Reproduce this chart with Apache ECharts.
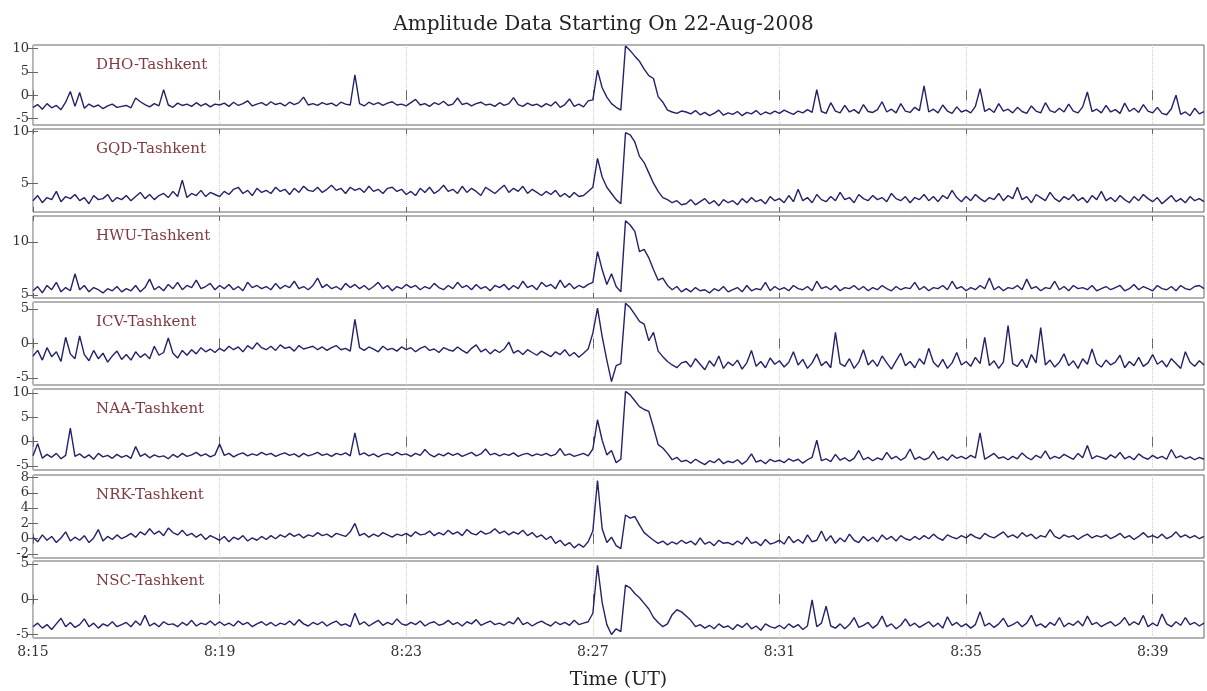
<!DOCTYPE html>
<html>
<head>
<meta charset="utf-8">
<title>Amplitude Data Starting On 22-Aug-2008</title>
<script src="https://cdn.jsdelivr.net/npm/echarts@6/dist/echarts.min.js"></script>
<style>
    html, body {
        margin: 0;
        padding: 0;
        background: #fff;
    }

    #chart {
        width: 1207px;
        height: 691px;
    }
</style>
</head>
<body>
<div id="chart"></div>
<script>
// one sample every 0.1 min, first sample at 8:15 UT
const sampleStep = 0.1;
const xTickMinutes = [0, 4, 8, 12, 16, 20, 24];   // 8:15, 8:19 ... 8:39

const stations = ['DHO-Tashkent', 'GQD-Tashkent', 'HWU-Tashkent', 'ICV-Tashkent',
    'NAA-Tashkent', 'NRK-Tashkent', 'NSC-Tashkent'];

const dho = [
    -2.6, -2.0, -3.0, -1.8, -2.7, -2.2, -3.1, -1.5, 0.8, -2.4,
    0.6, -2.8, -1.9, -2.5, -2.1, -2.9, -2.3, -1.9, -2.6, -2.4,
    -2.2, -2.7, -0.6, -1.4, -2.0, -2.5, -1.8, -2.3, 1.2, -2.1,
    -2.6, -1.7, -2.2, -1.9, -2.4, -1.6, -2.3, -1.8, -2.5, -1.9,
    -2.1, -1.7, -2.4, -1.5, -2.2, -1.8, -1.2, -2.3, -1.9, -1.6,
    -2.2, -1.4, -2.0, -1.7, -2.3, -1.5, -2.0, -1.6, -0.4, -2.1,
    -1.8, -2.2, -1.6, -2.0, -1.7, -2.3, -1.5, -1.9, -2.1, 4.4,
    -1.8, -2.3, -1.5, -2.0, -1.6, -2.2, -1.7, -1.4, -2.1, -1.9,
    -2.3, -1.6, -0.9, -2.1, -1.8, -2.4, -1.6, -2.0, -1.3, -2.2,
    -1.9, -0.6, -2.0, -1.7, -2.3, -1.8, -1.5, -2.1, -1.9, -2.4,
    -1.6, -2.2, -1.8, -0.5, -2.0, -2.4, -1.7, -2.2, -1.9, -2.5,
    -1.8, -2.3, -1.4, -2.6, -2.0, -0.8, -2.4, -1.9, -2.5, -1.2,
    -1.0, 5.4, 1.6, -0.4, -1.8, -2.6, -3.2, 10.6, 9.6, 8.4,
    7.3, 5.6, 4.2, 3.6, -0.3, -1.5, -3.2, -3.6, -3.9, -3.4,
    -3.6, -4.0, -3.3, -4.2, -3.7, -4.4, -3.9, -3.2, -4.3, -3.8,
    -4.1, -3.5, -4.4, -3.7, -4.0, -3.3, -4.2, -3.6, -4.0, -3.4,
    -3.9, -3.2, -3.7, -4.1, -3.4, -3.8, -3.1, -3.7, 1.2, -3.5,
    -3.9, -1.6, -3.4, -3.8, -2.2, -3.6, -3.1, -3.9, -2.0, -3.5,
    -3.7, -3.1, -1.4, -3.6, -3.0, -3.8, -1.8, -3.4, -3.7, -2.6,
    -3.3, 2.0, -3.6, -3.0, -3.8, -2.1, -3.4, -3.9, -2.5, -3.6,
    -3.2, -3.8, -2.4, 1.4, -3.5, -2.9, -3.7, -1.8, -3.4, -3.0,
    -3.8, -2.6, -3.5, -3.9, -2.3, -3.4, -3.8, -1.6, -3.3, -3.7,
    -2.8, -3.6, -1.9, -3.4, -3.8, -2.5, 0.7, -3.5, -3.0, -3.8,
    -2.2, -3.6, -3.1, -3.9, -1.7, -3.5, -2.8, -3.7, -2.0, -3.4,
    -3.8, -2.6, -3.9, -4.2, -2.9, 0.0, -4.1, -3.6, -4.4, -2.8,
    -4.0, -3.5
];

const gqd = [
    3.3, 3.8, 3.1, 3.6, 3.4, 4.2, 3.2, 3.7, 3.5, 3.9,
    3.3, 3.6, 3.0, 3.8, 3.4, 3.5, 3.9, 3.2, 3.6, 3.4,
    3.8, 3.3, 3.7, 4.1, 3.5, 3.9, 3.4, 3.8, 4.0, 3.6,
    4.2, 3.7, 5.3, 3.6, 4.0, 3.8, 4.3, 3.7, 4.1, 3.9,
    3.7, 4.2, 3.9, 4.4, 4.6, 4.0, 4.3, 3.8, 4.5, 4.1,
    4.3, 4.0, 4.6, 4.2, 4.4, 3.9, 4.5, 4.1, 4.7, 4.3,
    4.2, 4.6, 4.1, 4.4, 4.8, 4.3, 4.5, 4.0, 4.6, 4.3,
    4.5, 4.1, 4.7, 4.2, 4.4, 4.0, 4.5, 4.6, 4.2, 4.4,
    3.9, 4.2, 3.8, 4.5, 4.1, 4.6, 4.0, 4.3, 4.8, 4.2,
    4.4, 4.0, 4.7, 4.1, 4.5, 4.2, 3.8, 4.6, 4.3, 4.0,
    4.4, 4.8, 4.1, 4.5, 4.2, 4.7, 4.0, 4.4, 4.1, 3.8,
    4.2, 3.9, 4.3, 3.7, 4.0, 3.6, 4.1, 3.7, 3.8, 4.2,
    4.6, 7.4, 5.6, 4.6, 4.0, 3.4, 3.0, 9.9, 9.7, 9.0,
    7.6, 7.0, 6.0, 5.0, 4.2, 3.6, 3.4, 3.1, 3.3, 2.9,
    3.0, 3.4, 2.9, 3.2, 3.5, 3.0, 3.3, 2.8, 3.4, 3.1,
    3.3, 2.9, 3.5, 3.1, 3.6, 3.2, 3.4, 3.0, 3.7, 3.3,
    3.5, 3.1, 3.8, 3.2, 4.4, 3.3, 3.6, 3.1, 3.9, 3.4,
    3.2, 3.7, 3.3, 4.1, 3.4, 3.6, 3.1, 3.9, 3.5, 3.3,
    3.8, 3.4, 3.6, 3.2, 4.0, 3.5, 3.3, 3.7, 3.1, 3.6,
    3.4, 3.9, 3.3, 3.7, 3.2, 3.8, 3.5, 4.3, 3.6, 3.2,
    3.7, 3.3, 3.9, 3.5, 3.2, 3.6, 3.4, 4.0, 3.3, 3.8,
    3.5, 4.6, 3.4, 3.7, 3.1, 3.9, 3.6, 3.3, 4.1, 3.5,
    3.2, 3.7, 3.4, 3.9, 3.3, 3.6, 3.1, 3.8, 3.4, 4.2,
    3.3, 3.6, 3.2, 3.8, 3.4, 3.1, 3.7, 3.3, 3.9, 3.5,
    3.2, 3.6, 3.0, 3.4, 3.8, 3.2, 3.5, 3.1, 3.7, 3.3,
    3.5, 3.2
];

const hwu = [
    5.4, 5.8, 5.2, 5.9, 5.5, 6.2, 5.3, 5.7, 5.4, 7.0,
    5.5, 5.9, 5.3, 5.7, 5.5, 5.2, 5.6, 5.4, 5.8, 5.3,
    5.6, 5.4, 5.9, 5.3, 5.7, 6.5, 5.5, 5.8, 5.4, 6.0,
    5.6, 6.2, 5.5, 5.9, 5.7, 6.4, 5.6, 5.8, 6.1, 5.5,
    5.9, 5.6, 6.0, 5.5, 5.8, 5.4, 6.2, 5.7, 5.9, 5.6,
    5.8, 5.5, 6.1, 5.6, 5.9, 5.7, 6.3, 5.6, 5.8, 5.5,
    5.9, 6.6, 5.7, 6.0, 5.6, 5.8, 5.5, 6.1, 5.7, 6.0,
    5.6, 5.9, 5.5, 5.8, 6.2, 5.6, 5.9, 5.4, 5.8, 5.6,
    6.0, 5.7, 5.9, 5.5, 5.8, 5.6, 6.1, 5.7, 5.5, 5.9,
    5.6, 6.2, 5.7, 5.9, 5.5, 6.0, 5.6, 5.8, 5.4, 5.9,
    5.7, 6.0, 5.5, 5.9, 5.6, 6.3, 5.7, 5.9, 5.5, 6.2,
    5.8, 6.0, 5.6, 6.4, 5.7, 6.1, 5.6, 5.9, 5.7, 6.0,
    6.2, 9.1, 7.4, 6.0, 7.0, 5.8, 5.3, 12.0, 11.6, 11.0,
    9.1, 9.3, 8.5, 7.4, 6.4, 6.6, 5.9, 5.5, 5.8, 5.3,
    5.6, 5.3, 5.7, 5.4, 5.5, 5.2, 5.6, 5.4, 5.8, 5.3,
    5.5, 5.7, 5.3, 5.9, 5.4, 5.6, 5.5, 6.2, 5.4, 5.8,
    5.5, 5.7, 5.4, 5.9, 5.6, 5.5, 5.8, 5.4, 6.3, 5.6,
    5.8, 5.5, 5.9, 5.4, 5.7, 5.6, 5.9, 5.5, 5.8, 5.4,
    5.7, 5.5, 5.9, 5.6, 5.4, 5.8, 5.5, 5.7, 5.6, 6.2,
    5.5, 5.8, 5.4, 5.7, 5.6, 5.9, 5.5, 6.3, 5.6, 5.8,
    5.4, 5.7, 5.5, 5.9, 5.6, 6.6, 5.5, 5.8, 5.4, 5.7,
    5.6, 5.9, 5.5, 6.5, 5.6, 5.8, 5.4, 5.7, 5.6, 6.3,
    5.5, 5.8, 5.4, 5.9, 5.6, 5.7, 5.5, 5.9, 5.4, 5.6,
    5.8, 5.5, 5.7, 5.9, 5.4, 5.6, 6.0, 5.5, 5.8, 5.6,
    5.4, 5.9, 5.6, 5.5, 5.8, 5.4, 5.9, 5.6, 5.5, 5.8,
    5.9, 5.6
];

const icv = [
    -1.8, -1.0, -2.4, -0.6, -1.9, -1.2, -2.6, 0.9, -1.5, -2.2,
    1.1, -1.6, -2.5, -1.0, -2.2, -1.4, -2.7, -1.8, -1.1, -2.3,
    -1.6, -2.4, -1.2, -2.0, -1.5, -2.2, -0.4, -1.7, -1.3, 0.8,
    -1.4, -2.1, -1.0, -1.7, -0.9, -1.5, -0.6, -1.2, -0.8, -1.3,
    -0.7, -1.1, -0.4, -0.9, -0.5, -1.2, -0.3, -0.8, 0.1, -0.6,
    -0.9, -0.4, -1.0, -0.2, -0.7, -0.5, -1.1, -0.3, -0.8, -0.6,
    -0.4, -0.9, -0.5, -1.0, -0.6, -0.3, -0.9, -0.7, -1.1, 3.5,
    -0.6, -1.0, -0.5, -0.8, -1.2, -0.4, -0.9, -0.7, -1.1, -0.5,
    -0.9, -0.6, -1.2, -0.7, -0.4, -1.0, -0.8, -1.3, -0.6, -0.9,
    -1.1, -0.5, -1.0, -1.4, -0.7, -0.2, -1.2, -0.8, -1.5, -0.9,
    -1.3, -0.8, 0.2, -1.4, -1.0, -1.6, -0.9, -1.3, -1.7, -1.1,
    -1.5, -1.9, -1.2, -1.6, -0.9, -1.8, -1.3, -2.0, -1.4, -0.8,
    1.5, 5.1, 1.0, -2.4, -5.5, -3.2, -2.9, 5.8, 5.2, 4.2,
    3.2, 2.8, 0.4, 1.6, -1.1, -1.9, -2.6, -3.1, -3.5, -2.8,
    -2.6, -3.4, -2.2, -3.0, -3.8, -2.5, -3.3, -1.8, -3.6, -2.7,
    -3.2, -2.4, -3.7, -2.8, -1.0, -3.3, -2.6, -3.5, -2.1, -3.0,
    -2.5, -3.4, -2.7, -1.2, -3.1, -2.3, -3.6, -2.8, -1.5, -3.2,
    -2.6, -3.5, 1.6, -2.9, -3.3, -2.2, -3.6, -2.7, -0.9, -3.1,
    -2.4, -3.3, -1.8, -2.8, -3.7, -2.5, -1.4, -3.2, -2.6, -3.5,
    -2.2, -3.0, -0.7, -2.7, -3.4, -2.3, -3.6, -2.8, -1.3, -3.1,
    -2.6, -3.3, -2.0, -2.9, 0.9, -3.2, -2.5, -3.6, -2.7, 2.6,
    -2.9, -3.3, -2.3, -3.5, -1.6, -2.8, 2.3, -3.1, -2.4, -3.4,
    -2.7, -1.5, -3.2, -2.5, -3.6, -2.2, -3.0, -0.8, -2.9, -3.4,
    -2.4, -3.1, -2.7, -1.7, -3.5, -2.6, -3.2, -2.0, -3.3, -2.8,
    -1.6, -3.0, -2.5, -3.4, -2.2, -2.9, -3.6, -1.2, -2.7, -3.3,
    -2.5, -3.1
];

const naa = [
    -2.9, -0.4, -3.4, -2.6, -3.2, -2.4, -3.5, -2.8, 2.8, -3.0,
    -2.5, -3.3, -2.7, -3.6, -2.4, -3.1, -2.8, -3.4, -2.6, -3.2,
    -2.8, -3.4, -1.0, -3.0, -2.5, -3.3, -2.7, -3.1, -2.9, -3.5,
    -2.6, -3.2, -2.4, -3.0, -2.7, -2.2, -2.9, -2.5, -3.1, -2.7,
    -0.5, -2.8, -2.4, -3.1, -2.6, -2.3, -2.9, -2.5, -2.8, -2.2,
    -2.7, -2.4, -3.0, -2.6, -2.3, -2.8, -2.5, -3.1, -2.4, -2.9,
    -2.6, -2.2, -2.8, -2.5, -3.0, -2.4, -2.7, -2.3, -2.9, 1.8,
    -2.7, -2.3, -2.9, -2.5, -3.1, -2.6, -2.4, -2.8, -2.2, -2.7,
    -2.5, -3.0, -2.4, -2.8, -1.6, -2.6, -3.1, -2.5, -2.9, -2.3,
    -2.8, -2.4, -3.0, -2.6, -2.2, -2.9, -2.5, -1.5, -2.7, -2.4,
    -2.9, -2.5, -2.8, -2.3, -3.0, -2.6, -2.4, -2.9, -2.5, -2.8,
    -2.4, -2.9, -2.6, -1.4, -2.8, -2.5, -3.0, -2.7, -2.4, -2.9,
    -1.5, 4.5, 0.3, -2.7, -1.8, -4.3, -3.6, 10.3, 9.6, 8.4,
    7.2, 6.6, 6.2, 2.9, -0.6, -1.3, -2.4, -3.7, -3.2, -4.1,
    -3.8, -4.4, -3.6, -4.2, -4.7, -3.9, -4.3, -3.5, -4.5, -4.0,
    -4.3, -3.7, -4.6, -3.9, -2.5, -4.2, -3.8, -4.5, -3.6, -4.1,
    -3.8, -4.3, -3.5, -4.0, -3.6, -4.4, -3.7, -3.2, 0.3, -3.9,
    -3.5, -4.1, -2.6, -3.8, -3.3, -4.0, -3.4, -1.8, -3.7, -3.2,
    -3.9, -3.3, -3.7, -2.2, -3.5, -3.0, -3.8, -3.2, -1.5, -3.6,
    -3.1, -3.7, -3.3, -2.0, -3.6, -3.1, -3.8, -2.7, -3.4, -3.0,
    -3.5, -2.8, -3.3, 1.8, -3.6, -3.0, -2.4, -3.4, -3.1, -3.7,
    -3.0, -3.5, -2.3, -3.2, -3.7, -2.8, -3.3, -1.9, -3.5, -3.0,
    -3.4, -2.6, -3.1, -3.6, -2.4, -3.3, -0.8, -3.5, -2.9, -3.2,
    -3.6, -2.7, -3.3, -2.2, -3.5, -3.0, -3.7, -2.5, -3.2, -3.6,
    -2.8, -3.4, -3.0, -3.6, -1.6, -3.3, -2.9, -3.5, -3.1, -3.7,
    -3.2, -3.6
];

const nrk = [
    0.2, -0.4, 0.5, -0.2, 0.3, -0.5, 0.1, 0.9, -0.3, 0.2,
    -0.2, 0.4, -0.5, 0.1, 1.2, -0.3, 0.3, -0.1, 0.5, 0.0,
    0.3, 0.7, 0.2, 0.9, 0.5, 1.3, 0.6, 1.0, 0.4, 1.4,
    0.8, 0.5, 1.1, 0.4, 0.7, 0.2, 0.6, -0.1, 0.4, 0.1,
    -0.2, 0.3, -0.4, 0.2, -0.1, 0.4, -0.3, 0.1, -0.2, 0.3,
    -0.1, 0.4, 0.0, 0.5, 0.2, 0.7, 0.3, 0.6, 0.1, 0.5,
    0.3, 0.8, 0.4, 0.6, 0.2, 0.7, 0.5, 0.3, 0.9, 2.0,
    0.4, 0.7, 0.2, 0.6, 0.3, 0.8, 0.5, 0.2, 0.6, 0.4,
    0.7, 0.3, 0.9, 0.5, 0.6, 1.0, 0.4, 0.8, 0.5, 1.1,
    0.6, 0.9, 0.4, 1.2, 0.7, 0.5, 1.0, 0.6, 0.8, 1.3,
    0.7, 1.0, 0.5, 0.9, 0.6, 1.1, 0.4, 0.8, 0.2, 0.5,
    -0.1, 0.3, -0.6, -0.2, -0.9, -0.5, -1.2, -0.7, -1.1, -0.4,
    1.0, 7.6, 1.3, -0.5, 0.2, -0.9, -1.3, 3.1, 2.7, 2.9,
    1.8, 0.8, 0.3, -0.2, -0.6, -0.3, -0.8, -0.4, -0.7, -0.2,
    -0.6, -0.3, -0.8, 0.1, -0.7, -0.4, -0.9, -0.2, -0.6, -0.5,
    -0.8, -0.3, -0.7, 0.2, -0.6, -0.4, -0.9, -0.1, -0.7, -0.5,
    -0.2, -0.7, 0.3, -0.5, -0.1, -0.6, 0.5, -0.4, -0.2, 1.0,
    -0.3, 0.4, -0.6, 0.1, -0.4, 0.6, -0.2, -0.5, 0.3, -0.3,
    0.2, -0.4, 0.5, -0.1, 0.3, -0.3, 0.4, 0.0, -0.2, 0.3,
    -0.1, 0.4, 0.0, 0.6, 0.1, -0.2, 0.5, 0.2, 0.0, 0.4,
    0.1, 0.6, 0.2, 0.0, 0.7, 0.3, 0.1, 0.5, 0.9, 0.2,
    0.5, 0.1, 0.8, 0.3, 0.6, 0.0, 0.4, 0.2, 1.2, 0.3,
    0.0, 0.5, 0.2, 0.4, -0.1, 0.3, 0.6, 0.1, 0.4, 0.2,
    0.5, 0.0, 0.3, 0.7, 0.1, 0.4, -0.1, 0.3, 0.8, 0.2,
    0.4, 0.1, 0.6, 0.0, 0.3, 0.9, 0.2, 0.5, 0.1, 0.4,
    0.0, 0.3
];

const nsc = [
    -3.9, -3.4, -4.1, -3.6, -4.3, -3.5, -2.7, -3.9, -3.3, -4.0,
    -3.6, -2.8, -3.9, -3.4, -4.1, -3.5, -3.8, -3.2, -3.9, -3.6,
    -3.3, -3.9, -3.1, -3.7, -2.3, -3.8, -3.4, -3.9, -3.2, -3.6,
    -3.5, -3.9, -3.3, -3.7, -3.0, -3.8, -3.4, -3.6, -3.1, -3.7,
    -3.2, -3.7, -3.4, -3.8, -3.1, -3.6, -3.3, -3.9, -3.5, -3.2,
    -3.7, -3.3, -3.8, -3.4, -3.6, -3.1, -3.7, -2.9, -3.5, -3.8,
    -3.3, -3.6, -3.2, -3.8, -3.4, -3.1, -3.7, -3.5, -3.9, -2.0,
    -3.6, -3.2, -3.8, -3.4, -3.0, -3.7, -3.3, -3.6, -2.8, -3.5,
    -3.7, -3.3, -3.6, -3.1, -3.8, -3.4, -3.2, -3.7, -3.5, -3.0,
    -3.6, -3.3, -3.8, -3.2, -3.5, -2.9, -3.7, -3.4, -3.1, -3.6,
    -3.4, -3.7, -3.2, -3.5, -2.6, -3.6, -3.3, -3.8, -3.4, -3.1,
    -3.5, -3.8, -3.2, -3.6, -3.3, -3.7, -3.0, -3.6, -3.4, -3.2,
    -2.0, 4.8, -0.5, -3.6, -5.0, -4.2, -4.6, 2.0, 1.6, 0.8,
    0.2, -0.6, -1.4, -2.6, -3.3, -3.9, -3.5, -2.2, -1.5, -1.8,
    -2.4, -3.0, -3.9, -3.6, -4.1, -3.7, -4.2, -3.5, -4.0, -3.8,
    -4.3, -3.6, -4.0, -3.4, -4.2, -3.8, -4.4, -3.5, -3.9, -4.1,
    -3.7, -4.2, -3.5, -4.0, -3.6, -4.3, -3.8, -0.1, -3.9, -3.4,
    -1.0, -3.8, -4.1, -3.5, -4.2, -3.6, -2.6, -4.0, -3.7, -3.3,
    -4.1, -3.6, -2.4, -3.9, -3.5, -4.2, -3.7, -2.8, -3.8, -3.4,
    -4.0, -3.6, -3.2, -3.9, -3.4, -4.1, -2.5, -3.7, -3.3, -3.9,
    -3.5, -4.1, -3.6, -1.8, -3.8, -3.4, -4.0, -3.5, -2.7, -3.9,
    -3.6, -3.2, -3.9, -3.4, -2.3, -3.8, -3.5, -4.0, -3.3, -3.7,
    -2.6, -3.9, -3.4, -3.7, -3.1, -3.8, -2.4, -3.6, -3.3, -3.9,
    -3.5, -3.2, -3.8, -3.4, -2.6, -3.7, -3.2, -3.6, -2.3, -3.9,
    -3.4, -3.8, -2.1, -3.5, -3.9, -3.2, -3.7, -2.6, -3.6, -3.3,
    -3.8, -3.4
];

// y tick labels of each panel
const dhoTicks = [-5, 0, 5, 10];
const gqdTicks = [5, 10];
const hwuTicks = [5, 10];
const icvTicks = [-5, 0, 5];
const naaTicks = [-5, 0, 5, 10];
const nrkTicks = [-2, 0, 2, 4, 6, 8];
const nscTicks = [-5, 0, 5];

const seriesValues = [dho, gqd, hwu, icv, naa, nrk, nsc];
const yTicks = [dhoTicks, gqdTicks, hwuTicks, icvTicks, naaTicks, nrkTicks, nscTicks];

// panel placement (px) and visible amplitude range
const panels = [
    { top: 45, height: 80, min: -6.4, max: 10.8 },
    { top: 129, height: 83, min: 2.2, max: 10.26 },
    { top: 216, height: 82, min: 4.72, max: 12.45 },
    { top: 302, height: 83, min: -6, max: 6 },
    { top: 389, height: 81, min: -5.8, max: 10.8 },
    { top: 475, height: 83, min: -2.52, max: 8.33 },
    { top: 561, height: 83, min: -5.5, max: 5.4 }
];

const serif = 'DejaVu Serif';
const lineColor = '#22226a';
const frameColor = '#666';

const chart = echarts.init(document.getElementById('chart'));

const grid = [], xAxis = [], yAxis = [], series = [];
const title = [{
    text: 'Amplitude Data Starting On 22-Aug-2008',
    left: 'center',
    top: 10,
    textStyle: { fontFamily: serif, fontSize: 20, fontWeight: 'normal', color: '#222' }
}];

panels.forEach((p, k) => {
    const last = k === panels.length - 1;
    grid.push({
        left: 33, right: 3, top: p.top, height: p.height,
        show: true, borderColor: frameColor, borderWidth: 1, backgroundColor: '#fff'
    });
    // bottom x axis (labels only on the last panel)
    xAxis.push({
        type: 'value', gridIndex: k, min: 0, max: 25.1,
        axisLine: { show: false },
        axisTick: { show: true, inside: true, length: 5, customValues: xTickMinutes, lineStyle: { color: frameColor } },
        axisLabel: {
            show: last, customValues: xTickMinutes, margin: 7,
            fontFamily: serif, fontSize: 14, color: '#333',
            formatter: v => '8:' + (15 + v)
        },
        splitLine: { show: true, lineStyle: { color: '#cdcdcd', type: 'dotted' } },
        name: last ? 'Time (UT)' : '',
        nameLocation: 'middle', nameGap: 33,
        nameTextStyle: { fontFamily: serif, fontSize: 19, color: '#222' }
    });
    // top x axis, ticks only
    xAxis.push({
        type: 'value', gridIndex: k, min: 0, max: 25.1, position: 'top',
        axisLine: { show: false },
        axisTick: { show: true, inside: true, length: 5, customValues: xTickMinutes, lineStyle: { color: frameColor } },
        axisLabel: { show: false },
        splitLine: { show: false }
    });
    yAxis.push({
        type: 'value', gridIndex: k, min: p.min, max: p.max,
        axisLine: { show: false },
        axisTick: { show: true, inside: true, length: 5, customValues: yTicks[k], lineStyle: { color: frameColor } },
        axisLabel: {
            customValues: yTicks[k], margin: 4,
            fontFamily: serif, fontSize: 13, color: '#333'
        },
        splitLine: { show: false }
    });
    yAxis.push({
        type: 'value', gridIndex: k, min: p.min, max: p.max, position: 'right',
        axisLine: { show: false },
        axisTick: { show: true, inside: true, length: 5, customValues: yTicks[k], lineStyle: { color: frameColor } },
        axisLabel: { show: false },
        splitLine: { show: false }
    });
    series.push({
        name: stations[k],
        type: 'line',
        xAxisIndex: 2 * k,
        yAxisIndex: 2 * k,
        data: seriesValues[k].map((v, i) => [i * sampleStep, v]),
        showSymbol: false,
        symbol: 'none',
        sampling: 'none',
        lineStyle: { width: 1.4, color: lineColor }
    });
    title.push({
        text: stations[k],
        left: 91,
        top: p.top + 8,
        textStyle: { fontFamily: serif, fontSize: 15, fontWeight: 'normal', color: '#7e3a40' }
    });
});

chart.setOption({
    backgroundColor: '#fff',
    animation: false,
    title: title,
    grid: grid,
    xAxis: xAxis,
    yAxis: yAxis,
    series: series
});
</script>
</body>
</html>
